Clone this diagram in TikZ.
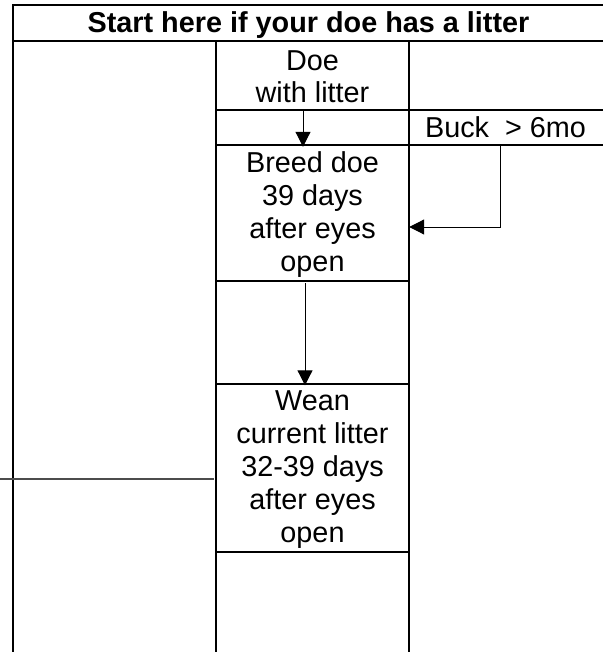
\documentclass[tikz,border=0pt]{standalone}
\usepackage{fontspec}
\setmainfont{Liberation Sans}
\usetikzlibrary{arrows.meta}
\begin{document}
\begin{tikzpicture}[x=1pt,y=-1pt,
  grid/.style={line width=2pt, line cap=rect},
  arr/.style={line width=1pt,-{Triangle[length=15pt,width=15pt]}},
  cell/.style={inner sep=0pt, align=center, font=\fontsize{28.8}{33}\selectfont},
  feed/.style={line width=1.2pt, draw=black!70},
]
\useasboundingbox (0,0) rectangle (602,652);
% table grid
\draw[grid] (602,5) -- (13,5) -- (13,652);
\draw[grid] (13,41) -- (602,41);
\draw[grid] (216,41) -- (216,652);
\draw[grid] (409,41) -- (409,652);
\draw[grid] (216,110) -- (602,110);
\draw[grid] (216,145) -- (602,145);
\draw[grid] (216,281) -- (409,281);
\draw[grid] (216,384) -- (409,384);
\draw[grid] (216,552) -- (409,552);
% cells
\node[cell, minimum width=589pt, minimum height=36pt] (title) at (308.5,25.5) {\bfseries Start here if your doe has a litter};
\node[cell, font=\fontsize{28.8}{32}\selectfont, minimum width=193pt, minimum height=69pt] (doe) at (312.5,77) {Doe\\with litter};
\node[cell, minimum width=193pt, minimum height=35pt] (buck) at (505.5,127.5) {Buck\ \ {>} 6mo};
\node[cell, minimum width=193pt, minimum height=136pt] (breed) at (312.5,215) {Breed doe\\39 days\\after eyes\\open};
\node[cell, minimum width=193pt, minimum height=168pt] (wean) at (312.5,469.5) {Wean\\current litter\\32-39 days\\after eyes\\open};
% connectors
\draw[arr] ([xshift=-9.5pt,yshift=2pt]doe.south) -- ([xshift=-9.5pt]breed.north);
\coordinate (bk) at ([xshift=-5.5pt]buck.south);
\coordinate (bkturn) at (500,227);
\draw[arr] (bk) -- (bkturn) -- (breed.east |- bkturn);
\draw[arr] ([xshift=-7.5pt]breed.south) -- ([xshift=-7.5pt]wean.north);
\coordinate (lf) at (0,479);
\draw[feed] (lf) -- ([xshift=-2pt]wean.west |- lf);
\end{tikzpicture}
\end{document}
